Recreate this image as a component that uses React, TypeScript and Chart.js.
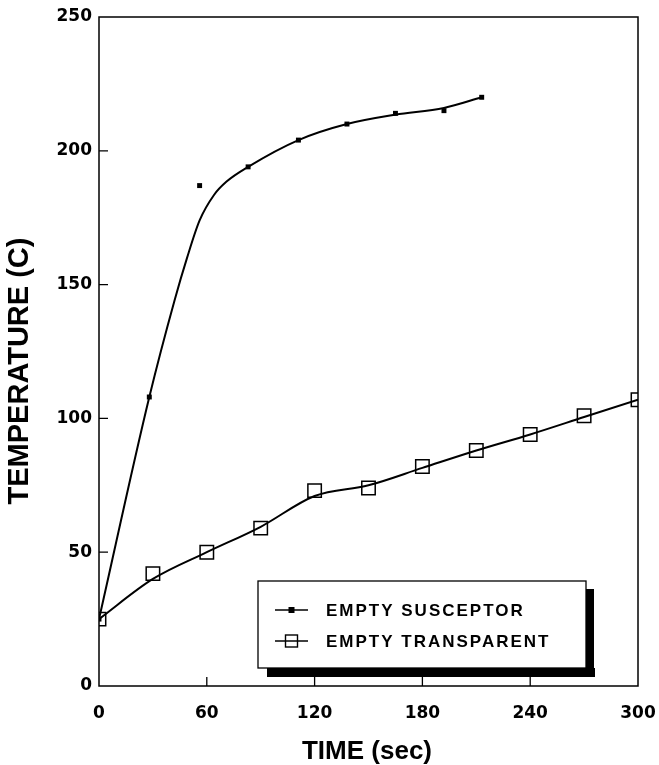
import React, { useEffect, useRef } from "react";
import { Chart, registerables } from "chart.js";

Chart.register(...registerables);

// ---- data ----
const susceptorTime = [0, 28, 56, 83, 111, 138, 165, 192, 213];
const susceptorTemp = [25, 108, 187, 194, 204, 210, 214, 215, 220];
const susceptorFitTime = [0, 28, 42, 49, 56, 64, 71, 83, 111, 138, 165, 192, 213];
const susceptorFitTemp = [25, 108, 144, 160, 174, 183.5, 188.5, 194, 204, 210, 213.5, 216, 220];
const transparentTime = [0, 30, 60, 90, 120, 150, 180, 210, 240, 270, 300];
const transparentTemp = [25, 42, 50, 59, 73, 74, 82, 88, 94, 101, 107];
const transparentFitTemp = [25, 40, 50, 59.5, 71, 75, 81.5, 88, 94, 100.5, 107];
const xTicks = [0, 60, 120, 180, 240, 300];
const yTicks = [0, 50, 100, 150, 200, 250];
const legendLabels = ["EMPTY SUSCEPTOR", "EMPTY TRANSPARENT"];
const xTitle = "TIME (sec)";
const yTitle = "TEMPERATURE (C)";

const pts = (xs: number[], ys: number[]) => xs.map((x, i) => ({ x, y: ys[i] }));

const decorPlugin = {
  id: "decor",
  afterDraw(chart: any) {
    const { ctx, chartArea: a, scales } = chart;
    const xs = scales.x;
    const ys = scales.y;
    ctx.save();
    // frame
    ctx.strokeStyle = "#000";
    ctx.lineWidth = 1.5;
    ctx.strokeRect(a.left, a.top, a.right - a.left, a.bottom - a.top);
    // inward ticks
    ctx.lineWidth = 1.3;
    ctx.beginPath();
    xTicks.slice(1, -1).forEach((v) => {
      const px = xs.getPixelForValue(v);
      ctx.moveTo(px, a.bottom);
      ctx.lineTo(px, a.bottom - 9);
    });
    yTicks.slice(1, -1).forEach((v) => {
      const py = ys.getPixelForValue(v);
      ctx.moveTo(a.left, py);
      ctx.lineTo(a.left + 9, py);
    });
    ctx.stroke();

    // titles
    ctx.fillStyle = "#000";
    ctx.textAlign = "center";
    ctx.textBaseline = "middle";
    ctx.font = "bold 26px 'Liberation Sans', Arial, sans-serif";
    ctx.fillText(xTitle, 367, a.bottom + 66);
    ctx.save();
    ctx.translate(20, a.top + 354);
    ctx.rotate(-Math.PI / 2);
    ctx.font = "bold 29px 'Liberation Sans', Arial, sans-serif";
    ctx.fillText(yTitle, 0, 0);
    ctx.restore();

    // legend
    const bx = 258;
    const by = a.top + 564;
    const bw = 328;
    const bh = 87;
    ctx.fillStyle = "#000";
    ctx.fillRect(bx + 9, by + bh, bw, 9);
    ctx.fillRect(bx + bw, by + 8, 8, bh + 1);
    ctx.fillStyle = "#fff";
    ctx.fillRect(bx, by, bw, bh);
    ctx.strokeStyle = "#000";
    ctx.lineWidth = 1.3;
    ctx.strokeRect(bx, by, bw, bh);

    const rows = [by + 29, by + 60];
    const lx1 = bx + 17;
    const lx2 = bx + 50;
    const cx = (lx1 + lx2) / 2;
    ctx.lineWidth = 1.6;
    rows.forEach((ry) => {
      ctx.beginPath();
      ctx.moveTo(lx1, ry);
      ctx.lineTo(lx2, ry);
      ctx.stroke();
    });
    ctx.fillStyle = "#000";
    ctx.fillRect(cx - 3, rows[0] - 3, 6, 6);
    ctx.lineWidth = 1.4;
    ctx.strokeRect(cx - 6, rows[1] - 6, 12, 12);

    ctx.font = "bold 17px 'Liberation Sans', Arial, sans-serif";
    (ctx as any).letterSpacing = "2px";
    ctx.textAlign = "left";
    ctx.textBaseline = "middle";
    legendLabels.forEach((t, i) => ctx.fillText(t, bx + 68, rows[i] + 1));
    ctx.restore();
  },
};

export default function App() {
  const ref = useRef<HTMLCanvasElement | null>(null);
  useEffect(() => {
    if (!ref.current) return;
    const tickFont = { family: "'DejaVu Sans', sans-serif", size: 17, weight: "bold" as const };
    const chart = new Chart(ref.current, {
      type: "scatter",
      data: {
        datasets: [
          {
            type: "line",
            data: pts(susceptorFitTime, susceptorFitTemp),
            borderColor: "#000",
            borderWidth: 2,
            pointRadius: 0,
            cubicInterpolationMode: "monotone",
            fill: false,
          },
          {
            type: "line",
            data: pts(transparentTime, transparentFitTemp),
            borderColor: "#000",
            borderWidth: 2,
            pointRadius: 0,
            cubicInterpolationMode: "monotone",
            fill: false,
          },
          {
            data: pts(susceptorTime, susceptorTemp),
            pointStyle: "rect",
            pointRadius: 3.5,
            backgroundColor: "#000",
            borderColor: "#000",
            borderWidth: 0,
          },
          {
            data: pts(transparentTime, transparentTemp),
            pointStyle: "rect",
            pointRadius: 9.5,
            backgroundColor: "rgba(0,0,0,0)",
            borderColor: "#000",
            borderWidth: 1.5,
          },
        ],
      } as any,
      options: {
        responsive: false,
        animation: false,
        events: [],
        layout: { padding: { top: 17, right: 21, left: 0, bottom: 0 } },
        plugins: { legend: { display: false }, tooltip: { enabled: false } },
        scales: {
          x: {
            type: "linear",
            min: 0,
            max: 300,
            afterBuildTicks: (s: any) => {
              s.ticks = xTicks.map((v) => ({ value: v }));
            },
            afterFit: (s: any) => {
              s.height = 79;
              s.paddingRight = 0;
              s.paddingLeft = 0;
            },
            grid: { display: false, drawTicks: false },
            border: { display: false },
            ticks: { color: "#000", font: tickFont, padding: 17, maxRotation: 0 },
          },
          y: {
            type: "linear",
            min: 0,
            max: 250,
            afterBuildTicks: (s: any) => {
              s.ticks = yTicks.map((v) => ({ value: v }));
            },
            afterFit: (s: any) => {
              s.width = 99;
              s.paddingTop = 0;
              s.paddingBottom = 0;
            },
            grid: { display: false, drawTicks: false },
            border: { display: false },
            ticks: { color: "#000", font: tickFont, padding: 7 },
          },
        },
      } as any,
      plugins: [decorPlugin],
    });
    return () => chart.destroy();
  }, []);
  return (
    <div style={{ position: "fixed", left: 0, top: 0, width: 659, height: 765, background: "#fff" }}>
      <canvas ref={ref} width={659} height={765} style={{ display: "block" }} />
    </div>
  );
}
